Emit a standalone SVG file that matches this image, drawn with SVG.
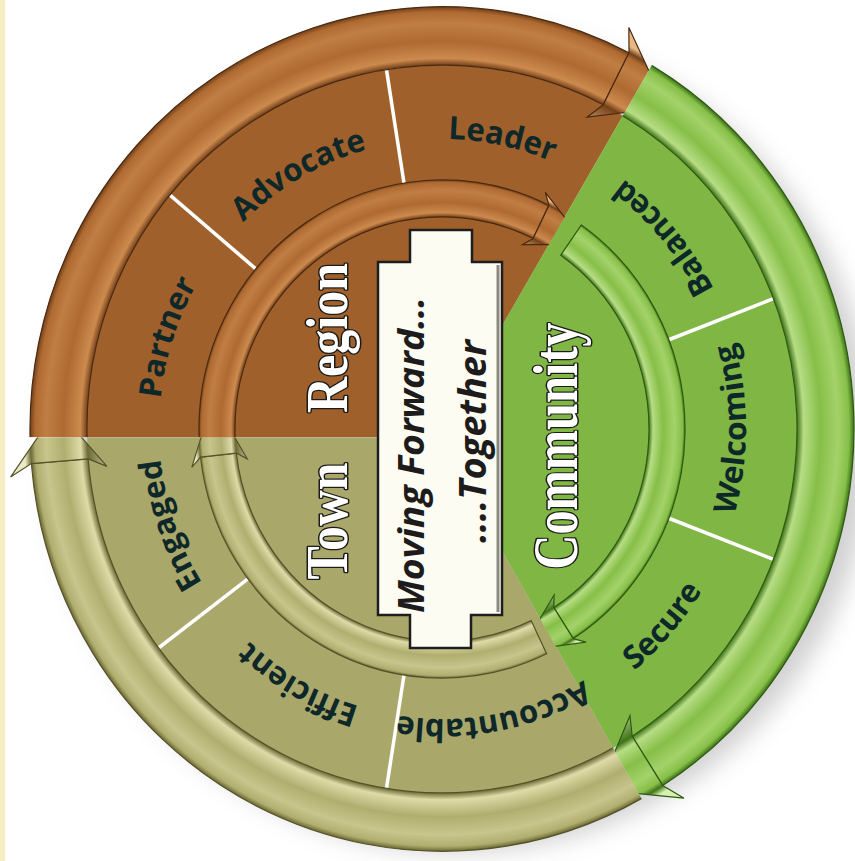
<svg xmlns="http://www.w3.org/2000/svg" width="855" height="861" viewBox="0 0 855 861">
<defs>
  <filter id="blur" x="-20%" y="-20%" width="140%" height="140%"><feGaussianBlur stdDeviation="12"/></filter>
  <radialGradient id="gBo" gradientUnits="userSpaceOnUse" cx="0" cy="0" r="440">
    <stop offset="0.74" stop-color="#e8b884"/><stop offset="0.807" stop-color="#74401a"/><stop offset="0.822" stop-color="#cc8a4e"/><stop offset="0.86" stop-color="#ae6a31"/><stop offset="0.9" stop-color="#c07e44"/><stop offset="0.925" stop-color="#ae6a31"/><stop offset="0.936" stop-color="#74401a"/><stop offset="0.95" stop-color="#e8b884"/>
  </radialGradient>
  <radialGradient id="gBi" gradientUnits="userSpaceOnUse" cx="0" cy="0" r="260">
    <stop offset="0.74" stop-color="#e8b884"/><stop offset="0.796" stop-color="#74401a"/><stop offset="0.812" stop-color="#cc8a4e"/><stop offset="0.85" stop-color="#ae6a31"/><stop offset="0.895" stop-color="#c07e44"/><stop offset="0.925" stop-color="#ae6a31"/><stop offset="0.935" stop-color="#74401a"/><stop offset="0.95" stop-color="#e8b884"/>
  </radialGradient>
  <radialGradient id="gGo" gradientUnits="userSpaceOnUse" cx="0" cy="0" r="440">
    <stop offset="0.74" stop-color="#d8f0b0"/><stop offset="0.807" stop-color="#3f7418"/><stop offset="0.822" stop-color="#b7dd85"/><stop offset="0.86" stop-color="#86bf48"/><stop offset="0.9" stop-color="#a4d26a"/><stop offset="0.925" stop-color="#86bf48"/><stop offset="0.936" stop-color="#3f7418"/><stop offset="0.95" stop-color="#d8f0b0"/>
  </radialGradient>
  <radialGradient id="gGi" gradientUnits="userSpaceOnUse" cx="0" cy="0" r="260">
    <stop offset="0.74" stop-color="#d8f0b0"/><stop offset="0.796" stop-color="#3f7418"/><stop offset="0.812" stop-color="#b7dd85"/><stop offset="0.85" stop-color="#86bf48"/><stop offset="0.895" stop-color="#a4d26a"/><stop offset="0.925" stop-color="#86bf48"/><stop offset="0.935" stop-color="#3f7418"/><stop offset="0.95" stop-color="#d8f0b0"/>
  </radialGradient>
  <radialGradient id="gOo" gradientUnits="userSpaceOnUse" cx="0" cy="0" r="440">
    <stop offset="0.74" stop-color="#eceac6"/><stop offset="0.807" stop-color="#6d6a35"/><stop offset="0.822" stop-color="#dedba8"/><stop offset="0.86" stop-color="#b0ae6f"/><stop offset="0.9" stop-color="#c8c58d"/><stop offset="0.925" stop-color="#b0ae6f"/><stop offset="0.936" stop-color="#6d6a35"/><stop offset="0.95" stop-color="#eceac6"/>
  </radialGradient>
  <radialGradient id="gOi" gradientUnits="userSpaceOnUse" cx="0" cy="0" r="260">
    <stop offset="0.74" stop-color="#eceac6"/><stop offset="0.796" stop-color="#6d6a35"/><stop offset="0.812" stop-color="#dedba8"/><stop offset="0.85" stop-color="#b0ae6f"/><stop offset="0.895" stop-color="#c8c58d"/><stop offset="0.925" stop-color="#b0ae6f"/><stop offset="0.935" stop-color="#6d6a35"/><stop offset="0.95" stop-color="#eceac6"/>
  </radialGradient>
  <clipPath id="cB"><polygon points="-4,8 -600,8 -600,-700 402,-681"/></clipPath>
  <clipPath id="cG"><polygon points="-4,8 402,-681 700,-700 700,700 396,701"/></clipPath>
  <clipPath id="cO"><polygon points="-4,8 396,701 -600,701 -600,8"/></clipPath>
  <path id="pPartner" d="M-252.16,128.48 A283,283 0 0 1 -128.48,-252.16"/>
  <path id="pAdvocate" d="M-273.36,-73.25 A283,283 0 0 1 73.25,-273.36"/>
  <path id="pLeader" d="M-154.13,-237.34 A283,283 0 0 1 237.34,-154.13"/>
  <path id="pBalanced" d="M302.84,26.50 A304,304 0 0 0 26.50,-302.84"/>
  <path id="pWelcoming" d="M214.96,214.96 A304,304 0 0 0 214.96,-214.96"/>
  <path id="pSecure" d="M21.21,303.26 A304,304 0 0 0 303.26,-21.21"/>
  <path id="pAccountable" d="M233.23,160.29 A283,283 0 0 1 -160.29,233.23"/>
  <path id="pEfficient" d="M73.25,273.36 A283,283 0 0 1 -273.36,73.25"/>
  <path id="pEngaged" d="M-124.06,254.36 A283,283 0 0 1 -254.36,-124.06"/>
</defs>
<style>
  .lbl{font-family:"Open Sans","Liberation Sans",sans-serif;font-weight:700;font-size:31px;fill:#0e2729}
  .big{font-family:"Liberation Serif","DejaVu Serif",serif;font-weight:700;fill:#ffffff;stroke:#1b1b1b;stroke-width:3px;paint-order:stroke;stroke-linejoin:round}
  .mv{font-family:"Open Sans","Liberation Sans",sans-serif;font-weight:700;font-style:italic;fill:#1d1b1b}
  .div{stroke:#ffffff;stroke-width:3.5;fill:none}
  .bb{stroke:#4a2a10;stroke-width:1.2}
  .bg{stroke:#2e5a12;stroke-width:1.2}
  .bo{stroke:#55522a;stroke-width:1.2}
</style>
<rect x="0" y="0" width="855" height="861" fill="#ffffff"/>
<rect x="0" y="0" width="5" height="861" fill="#f6edc4"/>
<circle cx="460" cy="440" r="412" fill="#8c8c8c" opacity="0.4" filter="url(#blur)"/>
<g transform="translate(442 429) scale(1 1.025)">
  <g id="sector-region">
    <circle r="355" fill="#a0602b" clip-path="url(#cB)"/>
  </g>
  <g id="sector-community">
    <circle r="355" fill="#7fb644" clip-path="url(#cG)"/>
  </g>
  <g id="sector-town">
    <circle r="355" fill="#a9a769" clip-path="url(#cO)"/>
  </g>
  <g id="dividers">
    <line class="div" x1="-186.15" y1="-156.20" x2="-271.94" y2="-228.19"/>
    <line class="div" x1="-38.01" y1="-240.01" x2="-55.53" y2="-350.63"/>
    <line class="div" x1="226.86" y1="-87.08" x2="331.42" y2="-127.22"/>
    <line class="div" x1="226.86" y1="87.08" x2="331.42" y2="127.22"/>
    <line class="div" x1="-38.01" y1="240.01" x2="-55.53" y2="350.63"/>
    <line class="div" x1="-194.07" y1="146.24" x2="-283.52" y2="213.65"/>
  </g>
  <g id="connectors">
    <g id="arrows-region" clip-path="url(#cB)">
      <path class="bb" fill="url(#gBi)" d="M-242.41,16.95 A243,243 0 0 1 106.92,-218.21 L91.08,-185.89 A207,207 0 0 0 -206.50,14.44 Z"/>
      <polygon class="bb" fill="url(#gBi)" points="91.08,-185.89 80.44,-179.83 110.25,-179.91 124.88,-203.78 103.31,-230.95 106.92,-218.21"/>
      <path class="bb" fill="url(#gBo)" d="M-411.44,21.56 A412,412 0 0 1 187.04,-367.10 L161.17,-316.31 A355,355 0 0 0 -354.51,18.58 Z"/>
      <polygon class="bb" fill="url(#gBo)" points="161.17,-316.31 145.08,-304.17 189.67,-309.51 210.04,-342.76 186.84,-391.72 187.04,-367.10"/>
    </g>
    <g id="arrows-community" clip-path="url(#cG)">
      <path class="bg" fill="url(#gGi)" d="M139.38,-199.05 A243,243 0 0 1 131.28,204.49 L111.83,174.19 A207,207 0 0 0 118.73,-169.56 Z"/>
      <polygon class="bg" fill="url(#gGi)" points="111.83,174.19 112.15,161.96 96.44,187.67 109.23,212.58 144.03,208.00 131.28,204.49"/>
      <path class="bg" fill="url(#gGo)" d="M193.42,-363.78 A412,412 0 0 1 220.76,347.86 L190.22,299.74 A355,355 0 0 0 166.66,-313.45 Z"/>
      <polygon class="bg" fill="url(#gGo)" points="190.22,299.74 187.96,279.71 170.42,320.51 188.73,354.95 242.06,360.22 220.76,347.86"/>
    </g>
    <g id="arrows-town" clip-path="url(#cO)">
      <path class="bo" fill="url(#gOi)" d="M104.61,219.33 A243,243 0 0 1 -241.44,27.51 L-205.67,23.43 A207,207 0 0 0 89.12,186.84 Z"/>
      <polygon class="bo" fill="url(#gOi)" points="-205.67,23.43 -194.84,29.12 -210.99,1.84 -238.99,2.09 -250.22,37.40 -241.44,27.51"/>
      <path class="bo" fill="url(#gOo)" d="M218.33,349.40 A412,412 0 0 1 -410.62,33.76 L-353.81,29.09 A355,355 0 0 0 188.12,301.06 Z"/>
      <polygon class="bo" fill="url(#gOo)" points="-353.81,29.09 -335.03,36.40 -366,2 -400,2 -431.46,46.87 -410.62,33.76"/>
    </g>
  </g>
  <g id="labels">
    <text class="lbl"><textPath href="#pPartner" startOffset="50%" text-anchor="middle">Partner</textPath></text>
    <text class="lbl"><textPath href="#pAdvocate" startOffset="50%" text-anchor="middle">Advocate</textPath></text>
    <text class="lbl"><textPath href="#pLeader" startOffset="50%" text-anchor="middle">Leader</textPath></text>
    <text class="lbl"><textPath href="#pBalanced" startOffset="50%" text-anchor="middle">Balanced</textPath></text>
    <text class="lbl"><textPath href="#pWelcoming" startOffset="50%" text-anchor="middle">Welcoming</textPath></text>
    <text class="lbl"><textPath href="#pSecure" startOffset="50%" text-anchor="middle">Secure</textPath></text>
    <text class="lbl"><textPath href="#pAccountable" startOffset="50%" text-anchor="middle">Accountable</textPath></text>
    <text class="lbl"><textPath href="#pEfficient" startOffset="50%" text-anchor="middle">Efficient</textPath></text>
    <text class="lbl"><textPath href="#pEngaged" startOffset="50%" text-anchor="middle">Engaged</textPath></text>
  </g>
</g>
<g id="banner">
  <path d="M410,230 H472 V262 H502 V615 H471 V648 H410 V615 H378 V262 H410 Z" fill="#fdfcf2" stroke="#1e1e1e" stroke-width="2.5"/>
  <path d="M498,265 V612" stroke="#8a8a80" stroke-width="3" fill="none"/>
  <text class="mv" font-size="36" transform="translate(424 455) rotate(-90)" x="-158" y="0" textLength="316" lengthAdjust="spacingAndGlyphs">Moving Forward...</text>
  <text class="mv" font-size="37" transform="translate(486 441.5) rotate(-90)" x="-101.5" y="0" textLength="203" lengthAdjust="spacingAndGlyphs">....Together</text>
</g>
<g id="titles">
  <text class="big" font-size="60" transform="translate(347 338) rotate(-90)" x="-75" y="0" textLength="150" lengthAdjust="spacingAndGlyphs">Region</text>
  <text class="big" font-size="60" transform="translate(347 521) rotate(-90)" x="-58.5" y="0" textLength="117" lengthAdjust="spacingAndGlyphs">Town</text>
  <text class="big" font-size="64" transform="translate(577 446) rotate(-90)" x="-123.5" y="0" textLength="247" lengthAdjust="spacingAndGlyphs">Community</text>
</g>
</svg>
